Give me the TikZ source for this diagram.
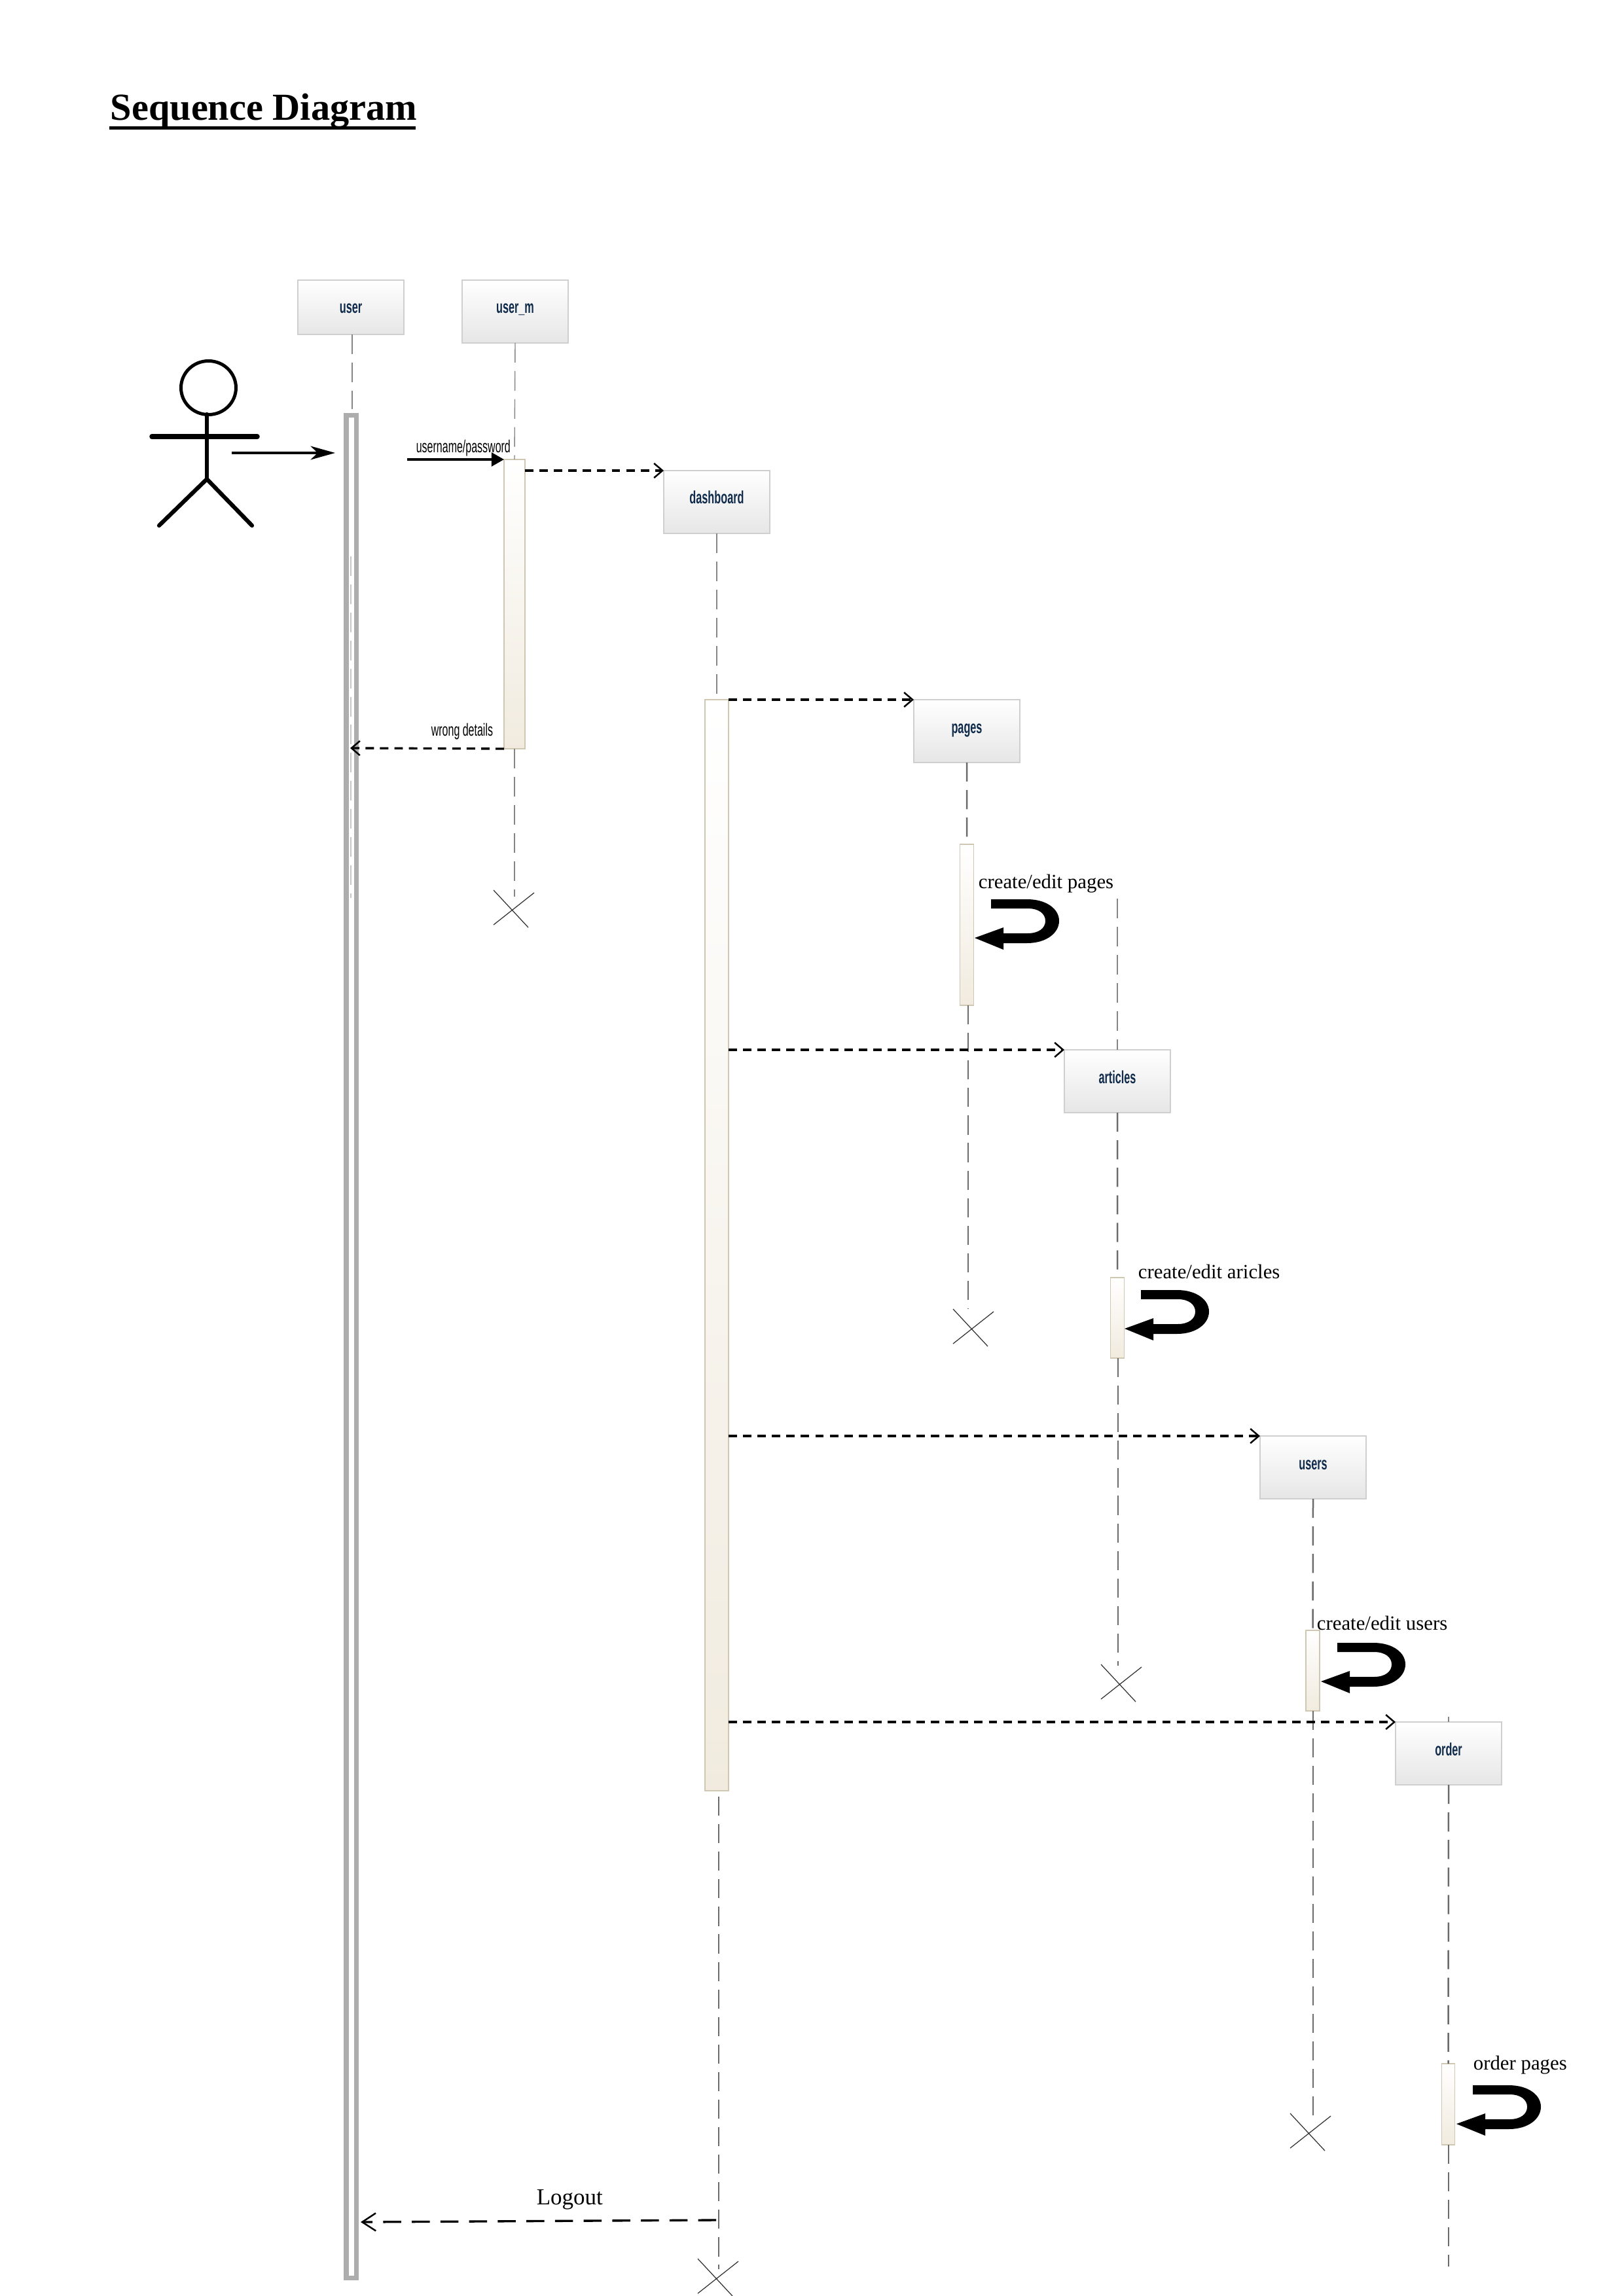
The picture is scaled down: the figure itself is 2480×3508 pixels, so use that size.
\documentclass[tikz,border=0pt]{standalone}
\usepackage{fontspec}
\setmainfont{Liberation Serif}
\newfontfamily\lsans{Liberation Sans}
\usetikzlibrary{arrows.meta}
\definecolor{boxtext}{HTML}{0F2A4A}
\definecolor{boxedge}{HTML}{CFCFCF}
\definecolor{boxlow}{HTML}{E6E6E6}
\definecolor{actedge}{HTML}{CFC7B2}
\definecolor{actlow}{HTML}{F1EBDF}
\definecolor{usergray}{HTML}{ADADAD}
\newcommand{\narrow}[1]{\scalebox{0.6}[1]{#1}}
\newcommand{\narrowb}[1]{\scalebox{0.6}[1]{#1}}
\tikzset{
  px/.style={x=0.24pt,y=-0.24pt},
  sz/.style 2 args={minimum width=#1*0.24pt,minimum height=#2*0.24pt},
  flat/.style={rectangle,inner sep=0pt,outer sep=0pt,anchor=north west},
  lifebox/.style={flat,draw=boxedge,line width=0.36pt,top color=white,bottom color=boxlow,
     font=\lsans\bfseries\fontsize{6.5}{7}\selectfont,text=boxtext,text height=12.24pt,text depth=10.8pt},
  shortbox/.style={lifebox,text depth=7.68pt},
  actbox/.style={flat,draw=actedge,line width=0.36pt,top color=white,bottom color=actlow},
  userbar/.style={flat,draw=usergray,line width=1.8pt,fill=white},
  thinline/.style={draw=black!48,line width=0.34pt,dash pattern=on 7.2pt off 3.1pt},
  darkline/.style={draw=black!58,line width=0.6pt,dash pattern=on 7pt off 3.1pt},
  msg/.style={draw=black,line width=0.8pt,dash pattern=on 3.1pt off 2.2pt,-{Straight Barb[length=3.1pt,width=5.3pt,line width=0.6pt]}},
  solidmsg/.style={draw=black,line width=0.85pt,-{Triangle[length=4.6pt,width=5pt]}},
  actormsg/.style={draw=black,line width=0.85pt,-{Stealth[length=9pt,width=5pt,inset=2.6pt]}},
  smalllabel/.style={anchor=base west,inner sep=0pt,font=\lsans\fontsize{6.4}{7}\selectfont},
  serifnote/.style={anchor=base west,inner sep=0pt,font=\fontsize{7.4}{9}\selectfont},
  actorline/.style={draw=black,line width=1.5pt,line cap=round},
  uturn/.pic={
    \fill[black] (25,-59) -- (80,-59) .. controls (110,-59) and (129,-44) .. (129,-26)
      .. controls (129,-8) and (110,8) .. (80,8) -- (44,8) -- (44,18) -- (0,0) -- (44,-16) -- (44,-7)
      -- (81,-7) .. controls (98,-7) and (108,-15) .. (108,-26)
      .. controls (108,-37) and (98,-45) .. (81,-45) -- (25,-45) -- cycle;
  },
  crossmark/.pic={
    \draw[black!80,line width=0.3pt] (0,0) -- (53,57) (62,4) -- (0,53);
  }
}
\begin{document}
\begin{tikzpicture}[px]
\useasboundingbox (0,0) rectangle (2480,3508);
\fill[white] (0,0) rectangle (2480,3508);

% title
\node[anchor=base west,inner sep=0pt,font=\bfseries\fontsize{14}{16}\selectfont] (title) at (168,184) {Sequence Diagram};
\fill[black] (167,193) rectangle (635,198);

% free ends of lifelines
\coordinate (uend) at (538,625);
\coordinate (pagesend) at (1479,2000);
\coordinate (artend) at (1708,2545);
\coordinate (artstart) at (1707,1373);
\coordinate (usersend) at (2006,3235);
\coordinate (orderend) at (2213,3463);
\coordinate (ordertick) at (2213,2623);
\coordinate (dstart) at (1098,2745);
\coordinate (dend) at (1098,3467);
\coordinate (umend) at (786,1370);
\coordinate (ufaint1) at (536,850);
\coordinate (ufaint2) at (536,1372);

% lifeline heads
\node[shortbox,sz={162}{83}] (user) at (455,428) {\narrowb{user}};
\node[lifebox,sz={162}{96}] (userm) at (706,428) {\narrowb{user\_m}};
\node[lifebox,sz={162}{96}] (dashboard) at (1014,719) {\narrowb{dashboard}};
\node[lifebox,sz={162}{96}] (pages) at (1396,1069) {\narrowb{pages}};
\node[lifebox,sz={162}{96}] (articles) at (1626,1604) {\narrowb{articles}};
\node[lifebox,sz={162}{96}] (users) at (1925,2194) {\narrowb{users}};
\node[lifebox,sz={162}{96}] (order) at (2132,2631) {\narrowb{order}};

% activations
\node[userbar,sz={15.5}{2846}] (uact) at (529,634.5) {};
\node[actbox,sz={32}{442}] (umact) at (770,702) {};
\node[actbox,sz={36}{1667}] (dact) at (1077,1069) {};
\node[actbox,sz={21}{246}] (pact) at (1466.5,1290) {};
\node[actbox,sz={21}{123}] (aact) at (1696.5,1952) {};
\node[actbox,sz={21}{123}] (usact) at (1995,2491) {};
\node[actbox,sz={20}{124}] (oact) at (2202.5,3153) {};

% lifelines
\draw[thinline] (user.south -| uend) -- (uend);
\draw[thinline,draw=gray!45] (ufaint1) -- (ufaint2);
\draw[thinline] (userm.south) -- (umact.north);
\draw[thinline] (umact.south) -- (umend);
\draw[thinline] (dashboard.south) -- (dashboard.south |- dact.north);
\draw[darkline] (dstart) -- (dend);
\draw[darkline] (pages.south) -- (pact.north);
\draw[darkline] (pact.south -| pagesend) -- (pagesend);
\draw[thinline] (artstart) -- (articles.north);
\draw[darkline] (articles.south) -- (aact.north);
\draw[darkline] (aact.south -| artend) -- (artend);
\draw[darkline] (users.south) -- (usact.north);
\draw[darkline] (usact.south -| usersend) -- (usersend);
\draw[thinline] (ordertick) -- (order.north);
\draw[darkline] (order.south) -- (oact.north);
\draw[darkline] (oact.south -| orderend) -- (orderend);

% actor
\draw[black,line width=1.2pt] (318.5,592.5) ellipse [x radius=42,y radius=41];
\draw[actorline] (316,633) -- (316,732);
\draw[actorline,line width=1.8pt] (232,667) -- (393,667);
\draw[actorline] (316,732) -- (243,803);
\draw[actorline] (316,732) -- (385,803);

% messages
\coordinate (actorfrom) at (354,692);
\coordinate (actorto) at (512,692);
\draw[actormsg] (actorfrom) -- (actorto);
\coordinate (unfrom) at (622,702);
\draw[solidmsg] (unfrom) -- (umact.north west);
\node[smalllabel] (unlabel) at (635,692) {\narrow{username/password}};
\draw[msg] (umact.east |- dashboard.north west) -- (dashboard.north west);
\coordinate (wrongto) at (535,1143);
\draw[msg] (umact.south west) -- (wrongto);
\node[smalllabel] (wronglabel) at (658,1124) {\narrow{wrong details}};
\draw[msg] (dact.north east) -- (pages.north west);
\draw[msg] (dact.east |- articles.north west) -- (articles.north west);
\draw[msg] (dact.east |- users.north west) -- (users.north west);
\draw[msg] (dact.east |- order.north west) -- (order.north west);
\coordinate (logoutfrom) at (1094,3392);
\coordinate (logoutto) at (551,3395);
\draw[msg,dash pattern=on 6.6pt off 3.9pt,-{Straight Barb[length=5pt,width=6.5pt,line width=0.6pt]}] (logoutfrom) -- (logoutto);
\node[anchor=base west,inner sep=0pt,font=\fontsize{8.4}{10}\selectfont] (logoutlabel) at (819,3368) {Logout};

% self calls
\node[serifnote] (pnote) at (1494,1357) {create/edit pages};
\pic at (1489,1433) {uturn};
\node[serifnote] (anote) at (1738,1953) {create/edit aricles};
\pic at (1718,2030) {uturn};
\node[serifnote] (unote) at (2011,2490) {create/edit users};
\pic at (2018,2569) {uturn};
\node[serifnote] (onote) at (2250,3162) {order pages};
\pic at (2225,3245) {uturn};

% destruction marks
\pic at (754,1360) {crossmark};
\pic at (1456,2000) {crossmark};
\pic at (1682,2543) {crossmark};
\pic at (1971,3229) {crossmark};
\pic at (1066,3451) {crossmark};
\end{tikzpicture}
\end{document}
